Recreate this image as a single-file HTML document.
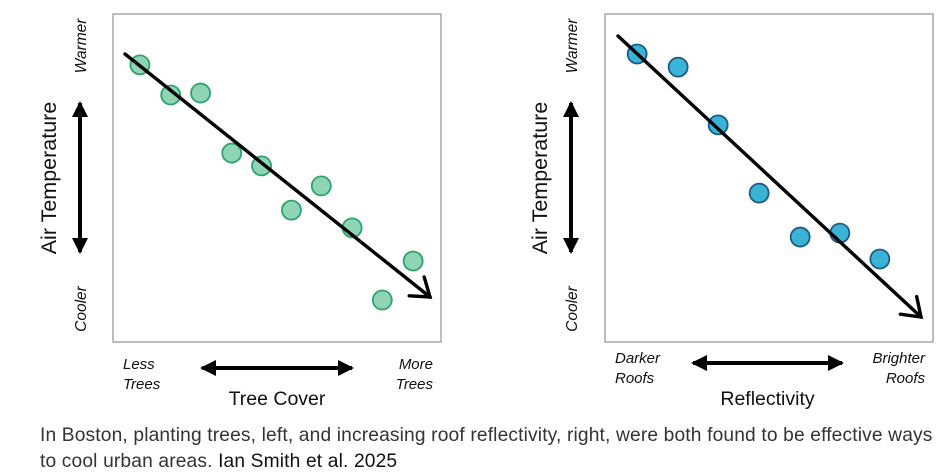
<!DOCTYPE html>
<html><head><meta charset="utf-8"><style>
body{margin:0;background:#fff;width:946px;height:475px;overflow:hidden;font-family:"Liberation Sans",sans-serif}
svg{display:block}
.cap{position:absolute;left:40px;top:423px;width:906px;font-size:19.2px;line-height:26px;color:#333;letter-spacing:0.15px;white-space:nowrap}
</style></head><body>
<svg id="c" width="946" height="420"></svg>
<div class="cap">In Boston, planting trees, left, and increasing roof reflectivity, right, were both found to be effective ways<br>to cool urban areas. <span style="color:#111">Ian Smith et al. 2025</span></div>
<script>
const treeX=[8.2,17.6,26.7,36.2,45.3,54.4,63.5,72.9,82.1,91.5];
const treeY=[84.5,75.3,75.9,57.6,53.7,40.2,47.6,34.8,12.8,24.7];
const roofX=[9.8,22.3,34.5,47.0,59.5,71.6,83.8];
const roofY=[87.8,83.8,66.2,45.4,32.0,33.2,25.3];
const NS="http://www.w3.org/2000/svg";
const svg=document.getElementById('c');
function mk(t,a){const e=document.createElementNS(NS,t);for(const k in a)e.setAttribute(k,a[k]);svg.appendChild(e);return e;}
function txt(s,x,y,size,opts){const e=mk('text',Object.assign({x:x,y:y,'font-size':size,fill:'#111','font-family':'Liberation Sans, sans-serif'},opts||{}));e.textContent=s;return e;}
function dbl(x1,y1,x2,y2){
  const l=mk('line',{x1:x1,y1:y1,x2:x2,y2:y2,stroke:'#000','stroke-width':4});
  
  
  const dx=x2-x1,dy=y2-y1,L=Math.hypot(dx,dy),ux=dx/L,uy=dy/L,px=-uy,py=ux;
  [[x1,y1,1],[x2,y2,-1]].forEach(([x,y,s])=>{
    const p=mk('polygon',{points:`${x-ux*s*2},${y-uy*s*2} ${x+ux*s*14+px*8},${y+uy*s*14+py*8} ${x+ux*s*14-px*8},${y+uy*s*14-py*8}`,fill:'#000'});
    
    
  });
}
function panel(p){
  const x0=p.x0,y0=14,w=328,h=328;
  const sx=v=>x0+v*w/100, sy=v=>y0+h-v*h/100;
  const r=mk('rect',{x:x0,y:y0,width:w,height:h,fill:'#fff',stroke:'#999','stroke-width':1.3});
  
  
  p.xs.forEach((v,i)=>{
    const c=mk('circle',{cx:sx(v),cy:sy(p.ys[i]),r:9.5,fill:p.fill,stroke:p.stroke,'stroke-width':1.8});
    
    
  });
  const a=p.arrow;
  const ln=mk('line',{x1:a[0],y1:a[1],x2:a[2],y2:a[3],stroke:'#000','stroke-width':3.4,'stroke-linecap':'round'});
  
  
  const dx=a[2]-a[0],dy=a[3]-a[1],L=Math.hypot(dx,dy),ux=dx/L,uy=dy/L;
  const hd=mk('polyline',{points:`${a[2]-ux*17+uy*12},${a[3]-uy*17-ux*12} ${a[2]},${a[3]} ${a[2]-ux*17-uy*12},${a[3]-uy*17+ux*12}`,fill:'none',stroke:'#000','stroke-width':3.4,'stroke-linecap':'round'});
  
  
  const ya=p.ya;
  let t=txt('Air Temperature',0,0,21.5,{transform:`translate(${ya+8},178) rotate(-90)`,'text-anchor':'middle'});
  
  t=txt('Warmer',0,0,15.5,{transform:`translate(${ya+38},46) rotate(-90)`,'text-anchor':'middle','font-style':'italic'});
  
  t=txt('Cooler',0,0,15.5,{transform:`translate(${ya+38},309) rotate(-90)`,'text-anchor':'middle','font-style':'italic'});
  
  dbl(ya+32,103,ya+32,252);
  dbl(p.hx1,p.hy,p.hx2,p.hy);
  p.ll.forEach((s,i)=>{t=txt(s,p.llx[i],p.ly+i*20,15,{'font-style':'italic'});});
  p.rl.forEach((s,i)=>{t=txt(s,x0+w-8,p.ly+i*20,15,{'font-style':'italic','text-anchor':'end'});});
  t=txt(p.title,(p.hx1+p.hx2)/2,405,19.5,{'text-anchor':'middle'});
  
}
panel({name:'tree-cover',x0:113,xs:treeX,ys:treeY,fill:'#8fd4b5',stroke:'#2da26c',arrow:[125,54,430,297],ya:48,hx1:202,hx2:352,hy:368,ly:369,ll:['Less','Trees'],llx:[123,123],rl:['More','Trees'],title:'Tree Cover'});
panel({name:'reflectivity',x0:605,xs:roofX,ys:roofY,fill:'#3ab4d4',stroke:'#1d5a86',arrow:[618,36,921,317],ya:539,hx1:693,hx2:842,hy:363,ly:363,ll:['Darker','Roofs'],llx:[615,615],rl:['Brighter','Roofs'],title:'Reflectivity'});
</script>
</body></html>
